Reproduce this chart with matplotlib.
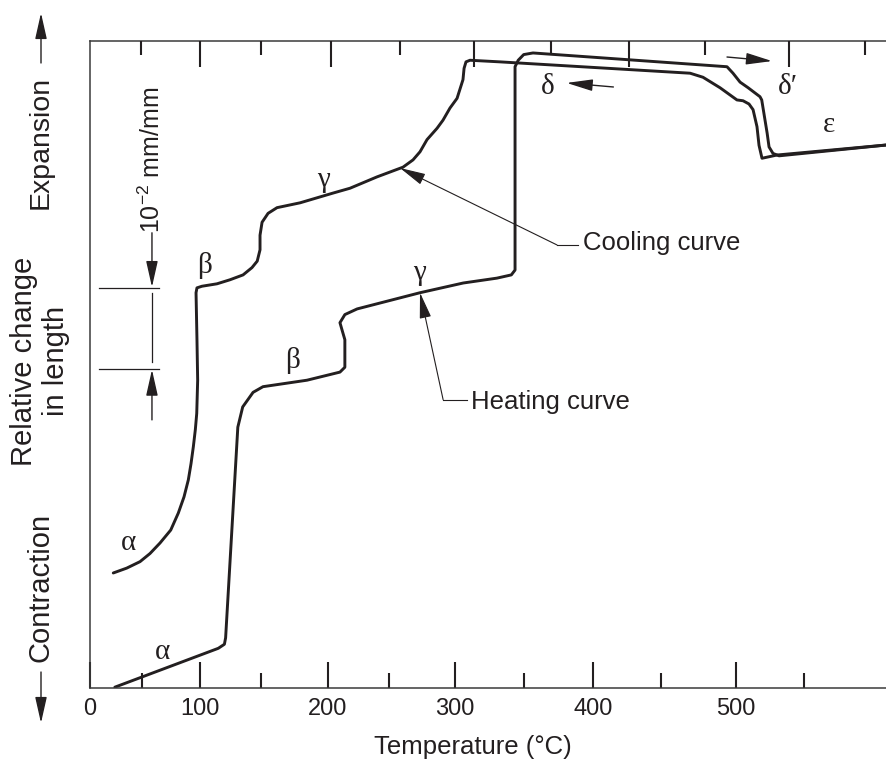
import numpy as np
import matplotlib
matplotlib.use("Agg")
import matplotlib.pyplot as plt
from matplotlib.ticker import FixedLocator, NullFormatter

INK = "#231f20"
plt.rcParams["font.family"] = ["Liberation Sans", "DejaVu Sans"]
plt.rcParams["mathtext.fontset"] = "custom"
plt.rcParams["mathtext.rm"] = "Liberation Sans"
plt.rcParams["mathtext.it"] = "Liberation Sans:italic"
GREEK = ["Liberation Serif", "DejaVu Serif"]

# heating curve: temperature (C) vs relative change in length (1e-2 mm/mm, arbitrary zero)
heat_T = [24, 115, 120, 121, 131, 135, 143.5, 151.5, 184.5, 210,
          214, 214, 211.7, 210, 214, 224, 273.5, 306, 330.5, 341,
          343.7, 343.7, 346, 350, 356.7, 494, 498, 503, 509, 517.7,
          519, 523, 524.4, 527.3, 531.8, 615]
heat_dl = [0.01, 0.49, 0.54, 0.62, 3.22, 3.47, 3.65, 3.72, 3.80, 3.90,
           3.96, 4.30, 4.42, 4.51, 4.61, 4.68, 4.88, 5.00, 5.06, 5.10,
           5.16, 7.67, 7.75, 7.82, 7.84, 7.67, 7.59, 7.48, 7.41, 7.30,
           7.26, 6.85, 6.68, 6.60, 6.57, 6.71]

# cooling curve (listed from high to low temperature)
cool_T = [615, 530.3, 519.2, 517, 515.5, 512.6, 509.6, 505.2, 500.7, 489.4,
          478, 469.4, 332.8, 310.9, 308, 306.6, 305.8, 301.5, 296.2, 290.9,
          286.4, 278.8, 273.5, 268.2, 260.6, 240.2, 218.2, 204.3, 179.3, 162,
          155.3, 150.8, 149.2, 149.2, 146.9, 142.6, 135.3, 124.6, 113.9, 101.6,
          97.4, 96.6, 97.4, 98.0, 97.2, 96.0, 94.3, 92.3, 90.0, 86.3,
          81.4, 74.9, 65.7, 57.1, 48.4, 35.5, 22.5]
cool_dl = [6.71, 6.58, 6.54, 6.70, 6.93, 7.14, 7.21, 7.25, 7.26, 7.41,
           7.54, 7.59, 7.73, 7.75, 7.73, 7.65, 7.51, 7.28, 7.16, 7.01,
           6.91, 6.77, 6.62, 6.52, 6.43, 6.31, 6.17, 6.11, 5.99, 5.93,
           5.86, 5.75, 5.59, 5.41, 5.27, 5.19, 5.10, 5.04, 4.99, 4.96,
           4.94, 4.88, 4.30, 3.80, 3.39, 3.19, 2.98, 2.77, 2.57, 2.36,
           2.16, 1.95, 1.79, 1.66, 1.56, 1.48, 1.42]

# phase labels: (text, T, dl)
phases = [("α", 68, 0.44), ("α", 37, 1.79), ("β", 104, 5.22), ("β", 174, 4.04),
          ("γ", 273, 5.12), ("γ", 196.5, 6.27), ("δ", 367, 7.42),
          ("δ′", 538, 7.42), ("ε", 569, 6.95)]

major_T = [0, 100, 200, 300, 400, 500]
minor_T = [50, 150, 250, 350, 450, 550]

# the printed temperature axis is not uniform; calibration of the tick spacing
knot_T = np.arange(0, 551, 50)
bottom_knots = np.array([90, 141.7, 200, 261, 327.7, 389, 455, 523.7, 593, 661, 736, 803.7])
top_knots = np.array([90, 141, 200, 261, 331, 400, 474, 551, 629, 705, 789, 865])


def lin(x, xp, fp):
    x = np.asarray(x, dtype=float)
    shape = x.shape
    x = x.ravel()
    y = np.interp(x, xp, fp)
    lo = x < xp[0]
    hi = x > xp[-1]
    y[lo] = fp[0] + (x[lo] - xp[0]) * (fp[1] - fp[0]) / (xp[1] - xp[0])
    y[hi] = fp[-1] + (x[hi] - xp[-1]) * (fp[-1] - fp[-2]) / (xp[-1] - xp[-2])
    return y.reshape(shape)


def bot_fwd(t): return lin(t, knot_T, bottom_knots)
def bot_inv(p): return lin(p, bottom_knots, knot_T)
def top_fwd(t): return lin(t, knot_T, top_knots)
def top_inv(p): return lin(p, top_knots, knot_T)


W, H = 886, 763
fig = plt.figure(figsize=(W / 100, H / 100), dpi=100)
ax = fig.add_axes([90 / W, 75 / H, 796 / W, 647 / H])
ax.set_xscale("function", functions=(bot_fwd, bot_inv))
ax.set_xlim(0, float(bot_inv(886)))
ax.set_ylim(0, 647 / 81)

ax.plot(heat_T, heat_dl, color=INK, lw=2.1, solid_joinstyle="round", solid_capstyle="round")
ax.plot(cool_T, cool_dl, color=INK, lw=2.1, solid_joinstyle="round", solid_capstyle="round")

for txt, t, d in phases:
    ax.text(t, d, txt, family=GREEK, fontsize=21, color=INK, ha="center", va="center")

arrow = dict(arrowstyle="-|>,head_length=0.8,head_width=0.18", color=INK, lw=1.0,
             shrinkA=0, shrinkB=0, mutation_scale=20)

# direction arrows
ax.annotate("", xy=(381, 7.47), xytext=(415, 7.42), arrowprops=arrow)
ax.annotate("", xy=(526.6, 7.74), xytext=(494, 7.79), arrowprops=arrow)

# callouts
ax.plot([374, 389], [5.47, 5.47], color=INK, lw=0.8)
ax.annotate("", xy=(258.3, 6.42), xytext=(374, 5.47),
            arrowprops=dict(arrow, lw=0.8))
ax.text(393, 5.49, "Cooling curve", fontsize=18.5, color=INK, ha="left", va="center")
ax.plot([291, 309], [3.56, 3.56], color=INK, lw=0.8)
ax.annotate("", xy=(273.5, 4.88), xytext=(291, 3.56),
            arrowprops=dict(arrow, lw=0.8))
ax.text(312, 3.53, "Heating curve", fontsize=18.5, color=INK, ha="left", va="center")

# scale bar 1e-2 mm/mm
for yy in (4.94, 3.94):
    ax.plot([8.7, 64.8], [yy, yy], color=INK, lw=0.9)
ax.plot([58.8, 58.8], [4.02, 4.88], color=INK, lw=0.9)
ax.annotate("", xy=(58.8, 4.95), xytext=(58.8, 5.62), arrowprops=arrow)
ax.annotate("", xy=(58.8, 3.93), xytext=(58.8, 3.31), arrowprops=arrow)
ax.text(58.8, 6.52, "$10^{-2}$ mm/mm", rotation=90, fontsize=18, color=INK,
        ha="center", va="center")

# axes styling
for s in ("left", "bottom", "top"):
    ax.spines[s].set_color("#3a3a3a")
    ax.spines[s].set_linewidth(1.1)
ax.spines["right"].set_visible(False)
ax.set_yticks([])
ax.xaxis.set_major_locator(FixedLocator(major_T))
ax.xaxis.set_minor_locator(FixedLocator(minor_T))
ax.xaxis.set_minor_formatter(NullFormatter())
ax.set_xticklabels([str(t) for t in major_T])
ax.tick_params(axis="x", which="major", direction="in", length=19, width=1.5,
               color=INK, labelsize=17, labelcolor=INK, pad=7)
ax.tick_params(axis="x", which="minor", direction="in", length=10.5, width=1.5, color=INK)

ax2 = ax.twiny()
ax2.set_xscale("function", functions=(top_fwd, top_inv))
ax2.set_xlim(0, float(top_inv(886)))
ax2.xaxis.set_major_locator(FixedLocator(major_T[1:]))
ax2.xaxis.set_minor_locator(FixedLocator(minor_T))
ax2.xaxis.set_major_formatter(NullFormatter())
ax2.xaxis.set_minor_formatter(NullFormatter())
ax2.tick_params(axis="x", which="major", direction="in", length=19, width=1.5, color=INK)
ax2.tick_params(axis="x", which="minor", direction="in", length=10, width=1.5, color=INK)
for s in ax2.spines.values():
    s.set_visible(False)

ax.set_xlabel("Temperature (°C)", fontsize=18.5, color=INK)
ax.xaxis.set_label_coords((473 - 90) / 796, -0.072)

# y-side labels, outside axes (figure pixels from top-left)
def fx(p): return p / W
def fy(p): return 1 - p / H

fig.text(fx(41), fy(142), "Expansion", rotation=90, fontsize=20.5, color=INK, ha="center", va="center")
fig.text(fx(40), fy(361), "Relative change\nin length", rotation=90, fontsize=21, color=INK,
         ha="center", va="center", multialignment="center", linespacing=1.15)
fig.text(fx(41), fy(587), "Contraction", rotation=90, fontsize=21, color=INK, ha="center", va="center")
fig.add_artist(matplotlib.patches.FancyArrowPatch((fx(41), fy(63)), (fx(41), fy(13)),
               transform=fig.transFigure, **arrow))
fig.add_artist(matplotlib.patches.FancyArrowPatch((fx(41), fy(672)), (fx(41), fy(723)),
               transform=fig.transFigure, **arrow))

fig.savefig("out.png", dpi=100)
